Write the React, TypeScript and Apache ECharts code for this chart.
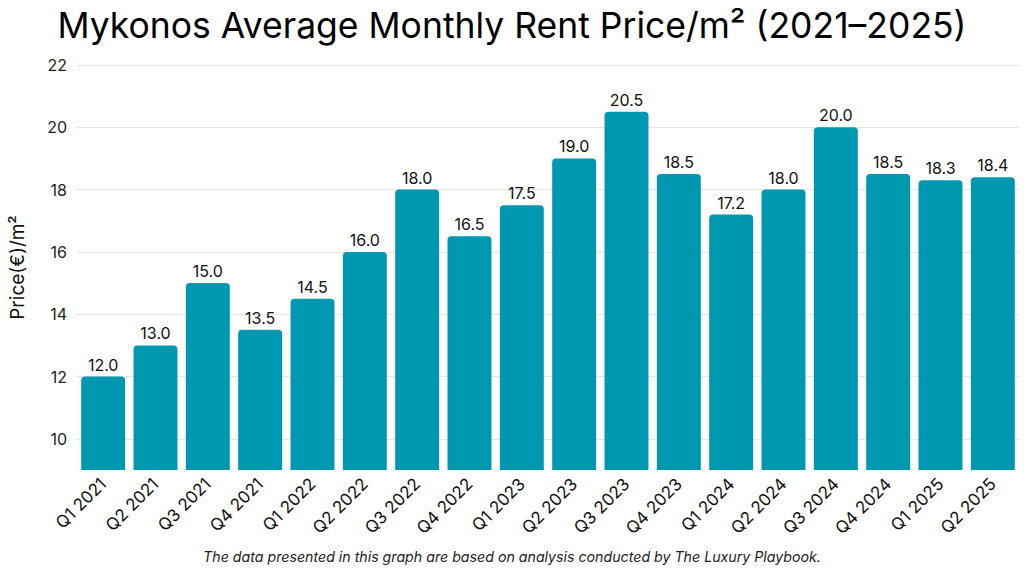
import React, { useEffect, useRef } from "react";
import * as echarts from "echarts";

const categories = [
  "Q1 2021", "Q2 2021", "Q3 2021", "Q4 2021",
  "Q1 2022", "Q2 2022", "Q3 2022", "Q4 2022",
  "Q1 2023", "Q2 2023", "Q3 2023", "Q4 2023",
  "Q1 2024", "Q2 2024", "Q3 2024", "Q4 2024",
  "Q1 2025", "Q2 2025",
];
const prices = [12.0, 13.0, 15.0, 13.5, 14.5, 16.0, 18.0, 16.5, 17.5, 19.0, 20.5, 18.5, 17.2, 18.0, 20.0, 18.5, 18.3, 18.4];
const yTicks = [10, 12, 14, 16, 18, 20, 22];

const FONT = "Inter, 'Noto Sans', sans-serif";

export default function App() {
  const ref = useRef<HTMLDivElement>(null);
  useEffect(() => {
    if (!ref.current) return;
    const chart = echarts.init(ref.current, null, { renderer: "svg" });
    chart.setOption({
      animation: false,
      backgroundColor: "#ffffff",
      textStyle: { fontFamily: FONT },
      title: {
        text: "Mykonos Average Monthly Rent Price/m² (2021–2025)",
        left: "center",
        top: 2,
        textStyle: { fontSize: 35.5, fontWeight: "normal", color: "#000", fontFamily: FONT },
      },
      graphic: [
        {
          type: "text",
          left: "center",
          top: 549,
          style: {
            text: "The data presented in this graph are based on analysis conducted by The Luxury Playbook.",
            font: `italic 14.2px ${FONT}`,
            fill: "#222",
          },
        },
      ],
      grid: { left: 70, right: 5, top: 65, bottom: 106, containLabel: false },
      xAxis: {
        type: "category",
        data: categories,
        axisLine: { show: false },
        axisTick: { show: false },
        axisLabel: { rotate: 45, fontSize: 17, color: "#111", margin: 11, interval: 0, fontFamily: FONT },
      },
      yAxis: {
        type: "value",
        min: 9,
        max: 22,
        name: "Price(€)/m²",
        nameLocation: "middle",
        nameGap: 50,
        nameRotate: 90,
        nameTextStyle: { fontSize: 19, color: "#111", fontFamily: FONT },
        axisLine: { show: false },
        axisTick: { show: false },
        splitLine: { show: false },
        axisLabel: { customValues: yTicks, fontSize: 16, color: "#222", margin: 10, fontFamily: FONT },
      },
      series: [
        {
          type: "bar",
          data: prices,
          barCategoryGap: "16%",
          itemStyle: { color: "#0098b1", borderRadius: [4, 4, 0, 0] },
          label: {
            show: true,
            position: "top",
            distance: 4,
            fontSize: 16,
            color: "#111",
            fontFamily: FONT,
            formatter: (p: any) => Number(p.value).toFixed(1),
          },
          markLine: {
            silent: true,
            symbol: ["none", "none"],
            label: { show: false },
            lineStyle: { color: "#e6e6e6", type: "solid", width: 1 },
            z: 0,
            data: yTicks.map((v) => ({ yAxis: v })),
          },
          z: 2,
        },
      ],
    });
    return () => chart.dispose();
  }, []);
  return <div ref={ref} style={{ width: 1024, height: 576, position: "absolute", left: 0, top: 0 }} />;
}
